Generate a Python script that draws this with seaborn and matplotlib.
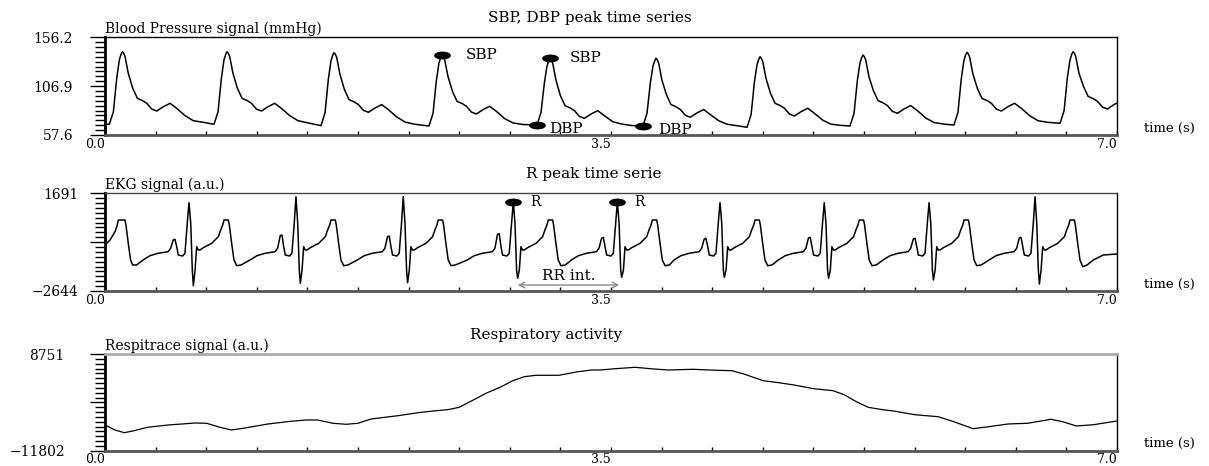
import numpy as np
import seaborn as sns
import matplotlib.pyplot as plt
from matplotlib.path import Path
from matplotlib.transforms import Affine2D

sns.set_style('white')
plt.rcParams['font.family'] = ['DejaVu Serif']
plt.rcParams['text.color'] = 'black'
plt.rcParams['xtick.color'] = 'black'
plt.rcParams['ytick.color'] = 'black'

# ---- blood pressure (mmHg), one line per beat
bp_time = [0.000,
    0.030, 0.058, 0.081, 0.099, 0.110, 0.120, 0.129, 0.139, 0.161, 0.192, 0.224, 0.261, 0.289, 0.323, 0.358, 0.404, 0.450, 0.496, 0.554, 0.611, 0.680,
    0.754, 0.782, 0.805, 0.823, 0.834, 0.844, 0.853, 0.863, 0.885, 0.916, 0.948, 0.985, 1.013, 1.047, 1.082, 1.128, 1.174, 1.220, 1.278, 1.335, 1.404,
    1.494, 1.522, 1.545, 1.563, 1.574, 1.584, 1.593, 1.603, 1.625, 1.656, 1.688, 1.725, 1.753, 1.787, 1.822, 1.868, 1.914, 1.960, 2.018, 2.075, 2.144,
    2.241, 2.269, 2.292, 2.310, 2.321, 2.331, 2.340, 2.350, 2.372, 2.403, 2.435, 2.472, 2.500, 2.534, 2.569, 2.615, 2.661, 2.707, 2.765, 2.822, 2.891,
    2.988, 3.016, 3.039, 3.057, 3.068, 3.078, 3.087, 3.097, 3.119, 3.150, 3.182, 3.219, 3.247, 3.281, 3.316, 3.362, 3.408, 3.454, 3.512, 3.569, 3.638,
    3.721, 3.749, 3.772, 3.790, 3.801, 3.811, 3.820, 3.830, 3.852, 3.883, 3.915, 3.952, 3.980, 4.014, 4.049, 4.095, 4.141, 4.187, 4.245, 4.302, 4.371,
    4.441, 4.469, 4.492, 4.510, 4.521, 4.531, 4.540, 4.550, 4.572, 4.603, 4.635, 4.672, 4.700, 4.734, 4.769, 4.815, 4.861, 4.907, 4.965, 5.022, 5.091,
    5.153, 5.181, 5.204, 5.222, 5.233, 5.243, 5.252, 5.262, 5.284, 5.315, 5.347, 5.384, 5.412, 5.446, 5.481, 5.527, 5.573, 5.619, 5.677, 5.734, 5.803,
    5.872, 5.900, 5.923, 5.941, 5.952, 5.962, 5.971, 5.981, 6.003, 6.034, 6.066, 6.103, 6.131, 6.165, 6.200, 6.246, 6.292, 6.338, 6.396, 6.453, 6.522,
    6.606, 6.634, 6.657, 6.675, 6.686, 6.696, 6.705, 6.715, 6.737, 6.768, 6.800, 6.837, 6.865, 6.899, 6.934, 6.965, 7.000]
bp_value = [68.6,
    68.4, 81.1, 114.8, 133.3, 138.7, 141.7, 140.2, 136.6, 119.9, 104.7, 94.6, 92.2, 89.6, 83.8, 81.8, 86.2, 89.6, 84.5, 77.1, 72.0, 70.4,
    68.4, 81.1, 114.8, 133.3, 138.7, 141.7, 140.2, 136.6, 119.9, 104.7, 94.6, 92.2, 89.6, 83.8, 81.8, 86.2, 89.6, 84.5, 77.1, 72.0, 69.8,
    67.0, 80.0, 114.0, 132.3, 137.7, 140.7, 139.2, 135.7, 119.0, 103.5, 93.3, 90.9, 88.3, 82.5, 80.5, 84.9, 88.3, 83.2, 75.8, 70.7, 68.4,
    66.7, 79.5, 112.5, 130.3, 135.3, 138.3, 136.8, 133.3, 117.0, 101.7, 91.6, 89.2, 86.6, 80.8, 78.8, 83.2, 86.6, 81.5, 74.1, 69.8, 68.2,
    67.7, 80.4, 110.0, 127.0, 132.0, 135.0, 133.5, 130.0, 113.2, 97.3, 87.2, 84.8, 82.2, 76.4, 74.4, 78.8, 82.2, 77.1, 71.0, 68.8, 67.2,
    66.7, 79.4, 110.0, 127.0, 132.0, 135.0, 133.5, 130.0, 113.2, 98.4, 88.3, 85.9, 83.3, 77.5, 75.5, 79.9, 83.3, 78.2, 72.0, 68.5, 67.0,
    65.4, 78.1, 111.0, 128.5, 133.6, 136.6, 135.1, 131.6, 114.8, 99.7, 89.6, 87.2, 84.6, 78.8, 76.8, 81.2, 84.6, 79.5, 72.5, 68.5, 67.3,
    66.7, 79.4, 112.5, 130.3, 135.3, 138.3, 136.8, 133.3, 116.5, 102.4, 92.3, 89.9, 87.3, 81.5, 79.5, 83.9, 87.3, 82.2, 74.8, 70.2, 68.6,
    67.7, 80.4, 114.5, 132.7, 138.1, 141.1, 139.6, 136.1, 119.3, 104.7, 94.6, 92.2, 89.6, 83.8, 81.8, 86.2, 89.6, 84.5, 77.1, 72.0, 70.4,
    69.4, 82.1, 116.0, 133.3, 138.7, 141.7, 140.2, 136.6, 119.9, 106.7, 96.6, 94.2, 91.6, 85.8, 83.8, 87.0, 90.0]

sbp_time = [2.331, 3.078]
sbp_value = [138.3, 135.0]
dbp_time = [2.988, 3.721]
dbp_value = [67.7, 66.7]

# ---- EKG (a.u.)
ekg_time = [0.000, 0.035, 0.069, 0.085, 0.092, 0.138, 0.145, 0.161, 0.177, 0.191, 0.219,
    0.263, 0.311, 0.367, 0.436, 0.454, 0.472, 0.484, 0.496, 0.507, 0.537, 0.553, 0.569, 0.581, 0.593, 0.604, 0.611, 0.623, 0.634, 0.645, 0.657, 0.680, 0.738, 0.784, 0.800, 0.814, 0.823, 0.853, 0.860, 0.876, 0.892, 0.911, 0.941,
    1.003, 1.051, 1.107, 1.176, 1.194, 1.212, 1.224, 1.236, 1.247, 1.277, 1.293, 1.309, 1.321, 1.333, 1.344, 1.351, 1.363, 1.374, 1.385, 1.397, 1.420, 1.478, 1.524, 1.540, 1.554, 1.563, 1.593, 1.600, 1.616, 1.632, 1.651, 1.681,
    1.745, 1.793, 1.849, 1.918, 1.936, 1.954, 1.966, 1.978, 1.989, 2.019, 2.035, 2.051, 2.063, 2.075, 2.086, 2.093, 2.105, 2.116, 2.127, 2.139, 2.162, 2.220, 2.266, 2.282, 2.296, 2.305, 2.335, 2.342, 2.358, 2.374, 2.393, 2.423,
    2.506, 2.554, 2.610, 2.679, 2.697, 2.715, 2.727, 2.739, 2.750, 2.780, 2.796, 2.812, 2.824, 2.836, 2.847, 2.854, 2.866, 2.877, 2.888, 2.900, 2.923, 2.981, 3.027, 3.043, 3.057, 3.066, 3.096, 3.103, 3.119, 3.135, 3.154, 3.184,
    3.226, 3.274, 3.330, 3.399, 3.417, 3.435, 3.447, 3.459, 3.470, 3.500, 3.516, 3.532, 3.544, 3.556, 3.567, 3.574, 3.586, 3.597, 3.608, 3.620, 3.643, 3.701, 3.747, 3.763, 3.777, 3.786, 3.816, 3.823, 3.839, 3.855, 3.874, 3.904,
    3.936, 3.984, 4.040, 4.109, 4.127, 4.145, 4.157, 4.169, 4.180, 4.210, 4.226, 4.242, 4.254, 4.266, 4.277, 4.284, 4.296, 4.307, 4.318, 4.330, 4.353, 4.411, 4.457, 4.473, 4.487, 4.496, 4.526, 4.533, 4.549, 4.565, 4.584, 4.614,
    4.657, 4.705, 4.761, 4.830, 4.848, 4.866, 4.878, 4.890, 4.901, 4.931, 4.947, 4.963, 4.975, 4.987, 4.998, 5.005, 5.017, 5.028, 5.039, 5.051, 5.074, 5.132, 5.178, 5.194, 5.208, 5.217, 5.247, 5.254, 5.270, 5.286, 5.305, 5.335,
    5.382, 5.430, 5.486, 5.555, 5.573, 5.591, 5.603, 5.615, 5.626, 5.656, 5.672, 5.688, 5.700, 5.712, 5.723, 5.730, 5.742, 5.753, 5.764, 5.776, 5.799, 5.857, 5.903, 5.919, 5.933, 5.942, 5.972, 5.979, 5.995, 6.011, 6.030, 6.060,
    6.115, 6.163, 6.219, 6.288, 6.306, 6.324, 6.336, 6.348, 6.359, 6.389, 6.405, 6.421, 6.433, 6.445, 6.456, 6.463, 6.475, 6.486, 6.497, 6.509, 6.532, 6.590, 6.636, 6.652, 6.666, 6.675, 6.705, 6.712, 6.728, 6.744, 6.763, 6.793,
    6.836, 6.905, 7.000]
ekg_value = [-603, -381, -13, 284, 506, 506, 284, -528, -1268, -1490, -1490,
    -1268, -1078, -971, -900, -749, -381, -350, -678, -1047, -1091, -971, 360, 1274, 360, -1712, -2409, -1712, -678, -825, -825, -723, -528, -235, 63, 284, 506, 506, 284, -528, -1268, -1521, -1490,
    -1268, -1078, -971, -900, -749, -190, -159, -678, -1047, -1091, -971, 360, 1540, 360, -1712, -2302, -1712, -678, -825, -825, -723, -528, -235, 63, 284, 506, 506, 284, -528, -1268, -1521, -1490,
    -1268, -1078, -971, -900, -749, -235, -204, -678, -1047, -1091, -971, 360, 1540, 360, -1712, -2276, -1712, -678, -825, -825, -723, -528, -235, 63, 284, 506, 506, 284, -528, -1268, -1521, -1490,
    -1268, -1078, -971, -900, -749, -131, -100, -678, -1047, -1091, -971, 360, 1318, 360, -1712, -2080, -1712, -678, -825, -825, -723, -528, -235, 63, 284, 506, 506, 284, -528, -1268, -1521, -1490,
    -1268, -1078, -971, -900, -749, -301, -270, -678, -1047, -1091, -971, 360, 1318, 360, -1712, -2036, -1712, -678, -825, -825, -723, -528, -235, 63, 284, 506, 506, 284, -528, -1268, -1521, -1490,
    -1268, -1078, -971, -900, -749, -337, -306, -678, -1047, -1091, -971, 360, 1274, 360, -1712, -2036, -1712, -678, -825, -825, -723, -528, -235, 63, 284, 506, 506, 284, -528, -1268, -1521, -1490,
    -1268, -1078, -971, -900, -749, -292, -261, -678, -1047, -1091, -971, 360, 1274, 360, -1712, -2080, -1712, -678, -825, -825, -723, -528, -235, 63, 284, 506, 506, 284, -528, -1268, -1521, -1490,
    -1268, -1078, -971, -900, -749, -337, -306, -678, -1047, -1091, -971, 360, 1274, 360, -1712, -2156, -1712, -678, -825, -825, -723, -528, -235, 63, 284, 506, 506, 284, -528, -1268, -1521, -1490,
    -1268, -1078, -971, -900, -749, -292, -261, -678, -1047, -1091, -971, 360, 1540, 360, -1712, -2333, -1712, -678, -825, -825, -723, -528, -235, 63, 284, 506, 506, 284, -528, -1268, -1566, -1490,
    -1268, -1047, -1002]

r_time = [2.824, 3.544]
r_value = [1318, 1318]
rr_span = [2.855, 3.557]

# ---- respitrace (a.u.)
resp_time = [0.000, 0.068, 0.134, 0.201, 0.293, 0.439, 0.624, 0.703, 0.795, 0.875, 0.968, 1.127, 1.286, 1.392,
    1.471, 1.577, 1.669, 1.749, 1.841, 2.027, 2.186, 2.292, 2.371, 2.450, 2.557, 2.635, 2.741, 2.821, 2.900,
    2.980, 3.139, 3.271, 3.364, 3.424, 3.531, 3.666, 3.773, 3.894, 4.069, 4.230, 4.337, 4.418, 4.553, 4.660,
    4.767, 4.901, 5.036, 5.117, 5.197, 5.279, 5.360, 5.467, 5.600, 5.762, 5.871, 5.978, 6.004, 6.113, 6.246,
    6.382, 6.543, 6.624, 6.718, 6.839, 7.000]
resp_value = [-6337, -7399, -7973, -7548, -6825, -6337, -5912, -5975, -6825, -7399, -6974, -6124, -5550, -5274,
    -5274, -5975, -6188, -5975, -5062, -4360, -3638, -3298, -3085, -2575, -875, 400, 1802, 3077, 3927,
    4225, 4225, 4990, 5351, 5351, 5627, 5925, 5627, 5351, 5500, 5287, 5202, 4501, 3077, 2652,
    2163, 1377, 952, 38, -1385, -2575, -3000, -3425, -4148, -4573, -5635, -6825, -7123, -6698, -6124,
    -5975, -5125, -5635, -6549, -6273, -5487]

W, H = 1209, 466
fig = plt.figure(figsize=(W / 100, H / 100), dpi=100)


def box(top, bottom):
    return [105 / W, 1 - bottom / H, 1012 / W, (bottom - top) / H]


ax1 = fig.add_axes(box(37.3, 135))
ax2 = fig.add_axes(box(193.3, 291))
ax3 = fig.add_axes(box(354, 450.7))


def setup(ax, lo, hi, ylabels, pad, title, tx, ylabel, topcolor='black'):
    ax.set_xlim(0, 7)
    ax.set_ylim(lo, hi)
    ax.set_xticks([0, 3.5, 7])
    ax.set_xticklabels(['0.0', '3.5', '7.0'], ha='right')
    ax.set_xticks(np.linspace(0, 7, 21), minor=True)
    ax.tick_params(axis='x', which='both', direction='in', length=3, width=1,
                   bottom=True, top=False, pad=2, labelsize=9)
    ax.set_yticks([lo, (lo + hi) / 2, hi])
    ax.set_yticklabels(ylabels)
    ax.set_yticks(np.linspace(lo, hi, 21), minor=True)
    ax.tick_params(axis='y', which='major', direction='out', length=11, width=1,
                   left=True, pad=pad, labelsize=10)
    ax.tick_params(axis='y', which='minor', direction='out', length=7, width=1, left=True)
    ax.set_xlabel('')
    ax.set_ylabel('')
    for s in ['top', 'right']:
        ax.spines[s].set_linewidth(1)
        ax.spines[s].set_color('black')
    ax.spines['top'].set_color(topcolor)
    ax.spines['left'].set_linewidth(2)
    ax.spines['left'].set_color('black')
    ax.spines['bottom'].set_linewidth(2)
    ax.spines['bottom'].set_color('#555555')
    ax.text(tx, 1.2, title, transform=ax.transAxes, ha='center', va='center', fontsize=11)
    ax.text(0.0, 1.01, ylabel, transform=ax.transAxes, ha='left', va='bottom', fontsize=10)
    ax.text(1.027, 0.07, 'time (s)', transform=ax.transAxes, ha='left', va='center', fontsize=9.5)


blob = Path.unit_circle().transformed(Affine2D().scale(1.0, 0.42))

# blood pressure
sns.lineplot(x=bp_time, y=bp_value, ax=ax1, color='black', linewidth=1.1, estimator=None, sort=False)
setup(ax1, 57.6, 156.2, ['57.6', '106.9', '156.2'], 12,
      'SBP, DBP peak time series', 0.479, 'Blood Pressure signal (mmHg)')
ax1.plot(sbp_time, sbp_value, linestyle='none', marker=blob, markersize=11, color='black')
ax1.plot(dbp_time, dbp_value, linestyle='none', marker=blob, markersize=11, color='black')
for t, v, dx in zip(sbp_time, sbp_value, [17, 14]):
    ax1.annotate('SBP', xy=(t, v), xytext=(dx, 0), textcoords='offset points',
                 ha='left', va='center', fontsize=11)
for t, v, dx in zip(dbp_time, dbp_value, [9, 11]):
    ax1.annotate('DBP', xy=(t, v), xytext=(dx, -3), textcoords='offset points',
                 ha='left', va='center', fontsize=11)

# EKG
sns.lineplot(x=ekg_time, y=ekg_value, ax=ax2, color='black', linewidth=1.1, estimator=None, sort=False)
setup(ax2, -2644, 1691, ['\u22122644', '', '1691'], 8,
      'R peak time serie', 0.483, 'EKG signal (a.u.)', topcolor='#444444')
ax2.plot(r_time, r_value, linestyle='none', marker=blob, markersize=11, color='black')
for t, v in zip(r_time, r_value):
    ax2.annotate('R', xy=(t, v), xytext=(12, 0), textcoords='offset points',
                 ha='left', va='center', fontsize=10)
ax2.annotate('', xy=(rr_span[0], -2378), xytext=(rr_span[1], -2378),
             arrowprops=dict(arrowstyle='<->', color='#888888', lw=1, shrinkA=0, shrinkB=0))
ax2.text(np.mean(rr_span), -1978, 'RR int.', ha='center', va='center', fontsize=11)

# respiration
sns.lineplot(x=resp_time, y=resp_value, ax=ax3, color='black', linewidth=0.9, estimator=None, sort=False)
setup(ax3, -11802, 8751, ['\u221211802', '', '8751'], 18,
      'Respiratory activity', 0.436, 'Respitrace signal (a.u.)', topcolor='#aaaaaa')
ax3.spines['top'].set_linewidth(2)

fig.savefig('out.png', dpi=100)
